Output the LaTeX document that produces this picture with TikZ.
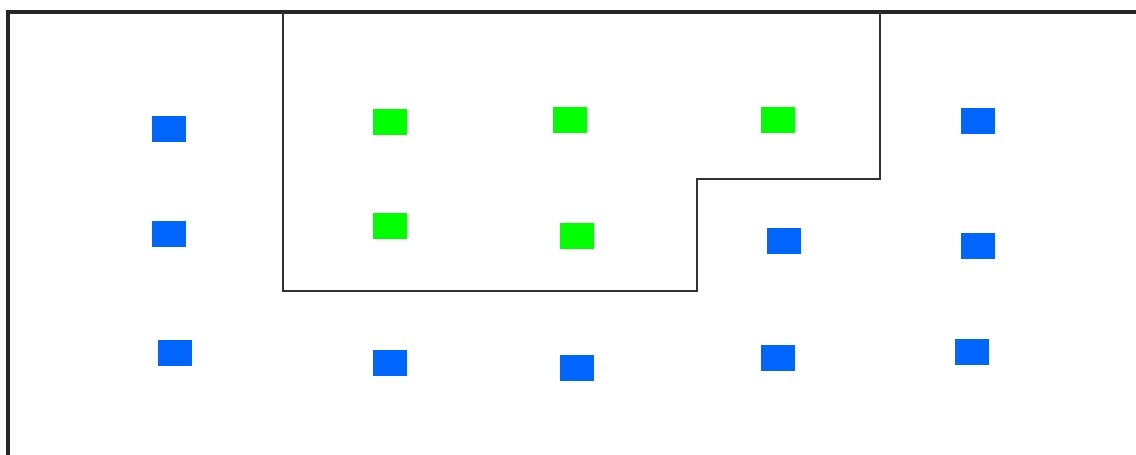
\documentclass[tikz,border=0pt]{standalone}
\usepackage{tikz}
\usepackage{xcolor}
\definecolor{nodeblue}{RGB}{0,102,255}
\definecolor{nodegreen}{RGB}{0,255,0}
\definecolor{edgegray}{RGB}{50,50,50}

\begin{document}
\begin{tikzpicture}[x=0.02cm,y=-0.02cm,
  sensor/.style={rectangle,inner sep=0,minimum width=0.68cm,minimum height=0.52cm}]
\useasboundingbox (0,0) rectangle (1136,455);
% outer frame
\draw[line width=1.9pt,black!85] (8,455) -- (8,12) -- (1136,12);
% cluster region
\draw[line width=1.1pt,edgegray] (283,12) -- (283,291) -- (697,291) -- (697,179) -- (880,179) -- (880,12);
% nodes outside the region
\foreach \x/\y [count=\i] in {169/129.5,169/234,175/353.5,389.5/363.5,576.5/368.5,
  778/358.5,971.5/352.5,783.5/241,977.5/246,977.5/121}{
\node[sensor,fill=nodeblue] (b\i) at (\x,\y) {};
}
% nodes inside the region
\foreach \x/\y [count=\i] in {389.5/122,570/120.5,778/120,389.5/226.5,576.5/236.5}{
\node[sensor,fill=nodegreen] (g\i) at (\x,\y) {};
}
\end{tikzpicture}
\end{document}
